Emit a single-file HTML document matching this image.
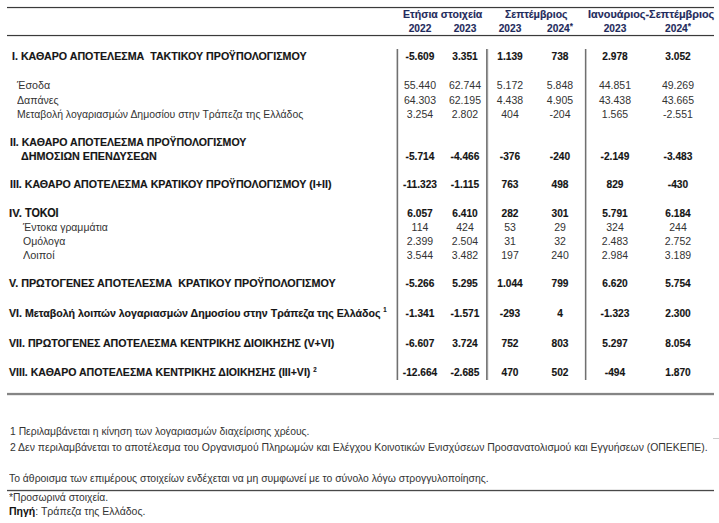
<!DOCTYPE html>
<html><head><meta charset="utf-8"><style>
html,body{margin:0;padding:0;background:#fff;width:719px;height:523px;overflow:hidden;position:relative}
.t{position:absolute;white-space:nowrap;font-family:"Liberation Sans",sans-serif}
.l{position:absolute}
sup{font-size:6.5px;vertical-align:top;position:relative;top:-3.5px}
.ast{font-weight:bold;font-size:9px;vertical-align:top;position:relative;top:-1.5px}
.t[style*="font-weight:bold"]{-webkit-text-stroke:0.15px currentColor}
</style></head><body>
<div class="l" style="left:7px;top:7px;width:707px;height:1px;background:#3a3a3a;box-shadow:0 1px 0 #e4e4e4, 0 -1px 0 #f0f0f0;"></div>
<div class="l" style="left:7px;top:35px;width:707px;height:1px;background:#3a3a3a;box-shadow:0 1px 0 #e4e4e4, 0 -1px 0 #f0f0f0;"></div>
<div class="t" style="left:403.42px;top:8.83px;font-size:11.3px;line-height:11.3px;font-weight:bold;color:#1f2b5c;transform:scaleX(0.9349);transform-origin:0 0;">Ετήσια στοιχεία</div>
<div class="t" style="left:505.04px;top:8.83px;font-size:11.3px;line-height:11.3px;font-weight:bold;color:#1f2b5c;transform:scaleX(0.9239);transform-origin:0 0;">Σεπτέμβριος</div>
<div class="t" style="left:588.02px;top:8.83px;font-size:11.3px;line-height:11.3px;font-weight:bold;color:#1f2b5c;transform:scaleX(0.9633);transform-origin:0 0;">Ιανουάριος-Σεπτέμβριος</div>
<div class="t" style="left:369.50px;width:100px;text-align:center;top:22.83px;font-size:11.3px;line-height:11.3px;font-weight:bold;color:#1f2b5c;transform:scaleX(0.9000);">2022</div>
<div class="t" style="left:414.50px;width:100px;text-align:center;top:22.83px;font-size:11.3px;line-height:11.3px;font-weight:bold;color:#1f2b5c;transform:scaleX(0.9000);">2023</div>
<div class="t" style="left:460.00px;width:100px;text-align:center;top:22.83px;font-size:11.3px;line-height:11.3px;font-weight:bold;color:#1f2b5c;transform:scaleX(0.9000);">2023</div>
<div class="t" style="left:509.50px;width:100px;text-align:center;top:22.83px;font-size:11.3px;line-height:11.3px;font-weight:bold;color:#1f2b5c;transform:scaleX(0.9000);">2024<span class="ast">*</span></div>
<div class="t" style="left:565.00px;width:100px;text-align:center;top:22.83px;font-size:11.3px;line-height:11.3px;font-weight:bold;color:#1f2b5c;transform:scaleX(0.9000);">2023</div>
<div class="t" style="left:628.00px;width:100px;text-align:center;top:22.83px;font-size:11.3px;line-height:11.3px;font-weight:bold;color:#1f2b5c;transform:scaleX(0.9000);">2024<span class="ast">*</span></div>
<div class="l" style="left:397px;top:49px;width:1px;height:331px;background:#707070;box-shadow:-1px 0 0 #c4c4c4, 1px 0 0 #e4e4e4;"></div>
<div class="l" style="left:486px;top:49px;width:1px;height:331px;background:#7a7a7a;box-shadow:1px 0 0 #9a9a9a, 2px 0 0 #ececec;"></div>
<div class="l" style="left:585px;top:49px;width:1px;height:331px;background:#707070;box-shadow:1px 0 0 #c4c4c4, -1px 0 0 #ececec;"></div>
<div class="t" style="left:12.33px;top:50.83px;font-size:11.3px;line-height:11.3px;font-weight:bold;color:#151515;transform:scaleX(0.9441);transform-origin:0 0;">I. ΚΑΘΑΡΟ ΑΠΟΤΕΛΕΣΜΑ&nbsp; ΤΑΚΤΙΚΟΥ ΠΡΟΫΠΟΛΟΓΙΣΜΟΥ</div>
<div class="t" style="left:369.50px;width:100px;text-align:center;top:50.83px;font-size:11.3px;line-height:11.3px;font-weight:bold;color:#151515;transform:scaleX(0.9000);">-5.609</div>
<div class="t" style="left:414.50px;width:100px;text-align:center;top:50.83px;font-size:11.3px;line-height:11.3px;font-weight:bold;color:#151515;transform:scaleX(0.9000);">3.351</div>
<div class="t" style="left:460.00px;width:100px;text-align:center;top:50.83px;font-size:11.3px;line-height:11.3px;font-weight:bold;color:#151515;transform:scaleX(0.9000);">1.139</div>
<div class="t" style="left:509.50px;width:100px;text-align:center;top:50.83px;font-size:11.3px;line-height:11.3px;font-weight:bold;color:#151515;transform:scaleX(0.9000);">738</div>
<div class="t" style="left:565.00px;width:100px;text-align:center;top:50.83px;font-size:11.3px;line-height:11.3px;font-weight:bold;color:#151515;transform:scaleX(0.9000);">2.978</div>
<div class="t" style="left:628.00px;width:100px;text-align:center;top:50.83px;font-size:11.3px;line-height:11.3px;font-weight:bold;color:#151515;transform:scaleX(0.9000);">3.052</div>
<div class="t" style="left:17.41px;top:79.79px;font-size:11px;line-height:11px;font-weight:normal;color:#333333;transform:scaleX(0.9727);transform-origin:0 0;">Έσοδα</div>
<div class="t" style="left:369.50px;width:100px;text-align:center;top:79.79px;font-size:11px;line-height:11px;font-weight:normal;color:#333333;transform:scaleX(0.9550);">55.440</div>
<div class="t" style="left:414.50px;width:100px;text-align:center;top:79.79px;font-size:11px;line-height:11px;font-weight:normal;color:#333333;transform:scaleX(0.9550);">62.744</div>
<div class="t" style="left:460.00px;width:100px;text-align:center;top:79.79px;font-size:11px;line-height:11px;font-weight:normal;color:#333333;transform:scaleX(0.9550);">5.172</div>
<div class="t" style="left:509.50px;width:100px;text-align:center;top:79.79px;font-size:11px;line-height:11px;font-weight:normal;color:#333333;transform:scaleX(0.9550);">5.848</div>
<div class="t" style="left:565.00px;width:100px;text-align:center;top:79.79px;font-size:11px;line-height:11px;font-weight:normal;color:#333333;transform:scaleX(0.9550);">44.851</div>
<div class="t" style="left:628.00px;width:100px;text-align:center;top:79.79px;font-size:11px;line-height:11px;font-weight:normal;color:#333333;transform:scaleX(0.9550);">49.269</div>
<div class="t" style="left:17.42px;top:95.29px;font-size:11px;line-height:11px;font-weight:normal;color:#333333;transform:scaleX(0.9651);transform-origin:0 0;">Δαπάνες</div>
<div class="t" style="left:369.50px;width:100px;text-align:center;top:95.29px;font-size:11px;line-height:11px;font-weight:normal;color:#333333;transform:scaleX(0.9550);">64.303</div>
<div class="t" style="left:414.50px;width:100px;text-align:center;top:95.29px;font-size:11px;line-height:11px;font-weight:normal;color:#333333;transform:scaleX(0.9550);">62.195</div>
<div class="t" style="left:460.00px;width:100px;text-align:center;top:95.29px;font-size:11px;line-height:11px;font-weight:normal;color:#333333;transform:scaleX(0.9550);">4.438</div>
<div class="t" style="left:509.50px;width:100px;text-align:center;top:95.29px;font-size:11px;line-height:11px;font-weight:normal;color:#333333;transform:scaleX(0.9550);">4.905</div>
<div class="t" style="left:565.00px;width:100px;text-align:center;top:95.29px;font-size:11px;line-height:11px;font-weight:normal;color:#333333;transform:scaleX(0.9550);">43.438</div>
<div class="t" style="left:628.00px;width:100px;text-align:center;top:95.29px;font-size:11px;line-height:11px;font-weight:normal;color:#333333;transform:scaleX(0.9550);">43.665</div>
<div class="t" style="left:17.43px;top:108.79px;font-size:11px;line-height:11px;font-weight:normal;color:#333333;transform:scaleX(0.9485);transform-origin:0 0;">Μεταβολή λογαριασμών Δημοσίου στην Τράπεζα της Ελλάδος</div>
<div class="t" style="left:369.50px;width:100px;text-align:center;top:108.79px;font-size:11px;line-height:11px;font-weight:normal;color:#333333;transform:scaleX(0.9550);">3.254</div>
<div class="t" style="left:414.50px;width:100px;text-align:center;top:108.79px;font-size:11px;line-height:11px;font-weight:normal;color:#333333;transform:scaleX(0.9550);">2.802</div>
<div class="t" style="left:460.00px;width:100px;text-align:center;top:108.79px;font-size:11px;line-height:11px;font-weight:normal;color:#333333;transform:scaleX(0.9550);">404</div>
<div class="t" style="left:509.50px;width:100px;text-align:center;top:108.79px;font-size:11px;line-height:11px;font-weight:normal;color:#333333;transform:scaleX(0.9550);">-204</div>
<div class="t" style="left:565.00px;width:100px;text-align:center;top:108.79px;font-size:11px;line-height:11px;font-weight:normal;color:#333333;transform:scaleX(0.9550);">1.565</div>
<div class="t" style="left:628.00px;width:100px;text-align:center;top:108.79px;font-size:11px;line-height:11px;font-weight:normal;color:#333333;transform:scaleX(0.9550);">-2.551</div>
<div class="t" style="left:9.93px;top:137.03px;font-size:11.3px;line-height:11.3px;font-weight:bold;color:#151515;transform:scaleX(0.9349);transform-origin:0 0;">II. ΚΑΘΑΡΟ ΑΠΟΤΕΛΕΣΜΑ ΠΡΟΫΠΟΛΟΓΙΣΜΟΥ</div>
<div class="t" style="left:21.40px;top:151.03px;font-size:11.3px;line-height:11.3px;font-weight:bold;color:#151515;transform:scaleX(0.9549);transform-origin:0 0;">ΔΗΜΟΣΙΩΝ ΕΠΕΝΔΥΣΕΩΝ</div>
<div class="t" style="left:369.50px;width:100px;text-align:center;top:151.03px;font-size:11.3px;line-height:11.3px;font-weight:bold;color:#151515;transform:scaleX(0.9000);">-5.714</div>
<div class="t" style="left:414.50px;width:100px;text-align:center;top:151.03px;font-size:11.3px;line-height:11.3px;font-weight:bold;color:#151515;transform:scaleX(0.9000);">-4.466</div>
<div class="t" style="left:460.00px;width:100px;text-align:center;top:151.03px;font-size:11.3px;line-height:11.3px;font-weight:bold;color:#151515;transform:scaleX(0.9000);">-376</div>
<div class="t" style="left:509.50px;width:100px;text-align:center;top:151.03px;font-size:11.3px;line-height:11.3px;font-weight:bold;color:#151515;transform:scaleX(0.9000);">-240</div>
<div class="t" style="left:565.00px;width:100px;text-align:center;top:151.03px;font-size:11.3px;line-height:11.3px;font-weight:bold;color:#151515;transform:scaleX(0.9000);">-2.149</div>
<div class="t" style="left:628.00px;width:100px;text-align:center;top:151.03px;font-size:11.3px;line-height:11.3px;font-weight:bold;color:#151515;transform:scaleX(0.9000);">-3.483</div>
<div class="t" style="left:9.93px;top:179.03px;font-size:11.3px;line-height:11.3px;font-weight:bold;color:#151515;transform:scaleX(0.9411);transform-origin:0 0;">III. ΚΑΘΑΡΟ ΑΠΟΤΕΛΕΣΜΑ ΚΡΑΤΙΚΟΥ ΠΡΟΫΠΟΛΟΓΙΣΜΟΥ (I+II)</div>
<div class="t" style="left:369.50px;width:100px;text-align:center;top:179.03px;font-size:11.3px;line-height:11.3px;font-weight:bold;color:#151515;transform:scaleX(0.9000);">-11.323</div>
<div class="t" style="left:414.50px;width:100px;text-align:center;top:179.03px;font-size:11.3px;line-height:11.3px;font-weight:bold;color:#151515;transform:scaleX(0.9000);">-1.115</div>
<div class="t" style="left:460.00px;width:100px;text-align:center;top:179.03px;font-size:11.3px;line-height:11.3px;font-weight:bold;color:#151515;transform:scaleX(0.9000);">763</div>
<div class="t" style="left:509.50px;width:100px;text-align:center;top:179.03px;font-size:11.3px;line-height:11.3px;font-weight:bold;color:#151515;transform:scaleX(0.9000);">498</div>
<div class="t" style="left:565.00px;width:100px;text-align:center;top:179.03px;font-size:11.3px;line-height:11.3px;font-weight:bold;color:#151515;transform:scaleX(0.9000);">829</div>
<div class="t" style="left:628.00px;width:100px;text-align:center;top:179.03px;font-size:11.3px;line-height:11.3px;font-weight:bold;color:#151515;transform:scaleX(0.9000);">-430</div>
<div class="t" style="left:9.38px;top:207.79px;font-size:11px;line-height:11px;font-weight:bold;color:#151515;transform:scaleX(1.0273);transform-origin:0 0;">IV.</div>
<div class="t" style="left:369.50px;width:100px;text-align:center;top:207.53px;font-size:11.3px;line-height:11.3px;font-weight:bold;color:#151515;transform:scaleX(0.9000);">6.057</div>
<div class="t" style="left:414.50px;width:100px;text-align:center;top:207.53px;font-size:11.3px;line-height:11.3px;font-weight:bold;color:#151515;transform:scaleX(0.9000);">6.410</div>
<div class="t" style="left:460.00px;width:100px;text-align:center;top:207.53px;font-size:11.3px;line-height:11.3px;font-weight:bold;color:#151515;transform:scaleX(0.9000);">282</div>
<div class="t" style="left:509.50px;width:100px;text-align:center;top:207.53px;font-size:11.3px;line-height:11.3px;font-weight:bold;color:#151515;transform:scaleX(0.9000);">301</div>
<div class="t" style="left:565.00px;width:100px;text-align:center;top:207.53px;font-size:11.3px;line-height:11.3px;font-weight:bold;color:#151515;transform:scaleX(0.9000);">5.791</div>
<div class="t" style="left:628.00px;width:100px;text-align:center;top:207.53px;font-size:11.3px;line-height:11.3px;font-weight:bold;color:#151515;transform:scaleX(0.9000);">6.184</div>
<div class="t" style="left:25.40px;top:206.94px;font-size:12px;line-height:12px;font-weight:bold;color:#151515;transform:scaleX(0.9027);transform-origin:0 0;">ΤΟΚΟΙ</div>
<div class="t" style="left:23.13px;top:222.09px;font-size:11px;line-height:11px;font-weight:normal;color:#333333;transform:scaleX(0.9483);transform-origin:0 0;">Έντοκα γραμμάτια</div>
<div class="t" style="left:369.50px;width:100px;text-align:center;top:222.09px;font-size:11px;line-height:11px;font-weight:normal;color:#333333;transform:scaleX(0.9550);">114</div>
<div class="t" style="left:414.50px;width:100px;text-align:center;top:222.09px;font-size:11px;line-height:11px;font-weight:normal;color:#333333;transform:scaleX(0.9550);">424</div>
<div class="t" style="left:460.00px;width:100px;text-align:center;top:222.09px;font-size:11px;line-height:11px;font-weight:normal;color:#333333;transform:scaleX(0.9550);">53</div>
<div class="t" style="left:509.50px;width:100px;text-align:center;top:222.09px;font-size:11px;line-height:11px;font-weight:normal;color:#333333;transform:scaleX(0.9550);">29</div>
<div class="t" style="left:565.00px;width:100px;text-align:center;top:222.09px;font-size:11px;line-height:11px;font-weight:normal;color:#333333;transform:scaleX(0.9550);">324</div>
<div class="t" style="left:628.00px;width:100px;text-align:center;top:222.09px;font-size:11px;line-height:11px;font-weight:normal;color:#333333;transform:scaleX(0.9550);">244</div>
<div class="t" style="left:23.12px;top:235.69px;font-size:11px;line-height:11px;font-weight:normal;color:#333333;transform:scaleX(0.9581);transform-origin:0 0;">Ομόλογα</div>
<div class="t" style="left:369.50px;width:100px;text-align:center;top:235.69px;font-size:11px;line-height:11px;font-weight:normal;color:#333333;transform:scaleX(0.9550);">2.399</div>
<div class="t" style="left:414.50px;width:100px;text-align:center;top:235.69px;font-size:11px;line-height:11px;font-weight:normal;color:#333333;transform:scaleX(0.9550);">2.504</div>
<div class="t" style="left:460.00px;width:100px;text-align:center;top:235.69px;font-size:11px;line-height:11px;font-weight:normal;color:#333333;transform:scaleX(0.9550);">31</div>
<div class="t" style="left:509.50px;width:100px;text-align:center;top:235.69px;font-size:11px;line-height:11px;font-weight:normal;color:#333333;transform:scaleX(0.9550);">32</div>
<div class="t" style="left:565.00px;width:100px;text-align:center;top:235.69px;font-size:11px;line-height:11px;font-weight:normal;color:#333333;transform:scaleX(0.9550);">2.483</div>
<div class="t" style="left:628.00px;width:100px;text-align:center;top:235.69px;font-size:11px;line-height:11px;font-weight:normal;color:#333333;transform:scaleX(0.9550);">2.752</div>
<div class="t" style="left:23.10px;top:249.59px;font-size:11px;line-height:11px;font-weight:normal;color:#333333;transform:scaleX(0.9903);transform-origin:0 0;">Λοιποί</div>
<div class="t" style="left:369.50px;width:100px;text-align:center;top:249.59px;font-size:11px;line-height:11px;font-weight:normal;color:#333333;transform:scaleX(0.9550);">3.544</div>
<div class="t" style="left:414.50px;width:100px;text-align:center;top:249.59px;font-size:11px;line-height:11px;font-weight:normal;color:#333333;transform:scaleX(0.9550);">3.482</div>
<div class="t" style="left:460.00px;width:100px;text-align:center;top:249.59px;font-size:11px;line-height:11px;font-weight:normal;color:#333333;transform:scaleX(0.9550);">197</div>
<div class="t" style="left:509.50px;width:100px;text-align:center;top:249.59px;font-size:11px;line-height:11px;font-weight:normal;color:#333333;transform:scaleX(0.9550);">240</div>
<div class="t" style="left:565.00px;width:100px;text-align:center;top:249.59px;font-size:11px;line-height:11px;font-weight:normal;color:#333333;transform:scaleX(0.9550);">2.984</div>
<div class="t" style="left:628.00px;width:100px;text-align:center;top:249.59px;font-size:11px;line-height:11px;font-weight:normal;color:#333333;transform:scaleX(0.9550);">3.189</div>
<div class="t" style="left:9.41px;top:277.83px;font-size:11.3px;line-height:11.3px;font-weight:bold;color:#151515;transform:scaleX(0.9522);transform-origin:0 0;">V. ΠΡΩΤΟΓΕΝΕΣ ΑΠΟΤΕΛΕΣΜΑ&nbsp; ΚΡΑΤΙΚΟΥ ΠΡΟΫΠΟΛΟΓΙΣΜΟΥ</div>
<div class="t" style="left:369.50px;width:100px;text-align:center;top:277.83px;font-size:11.3px;line-height:11.3px;font-weight:bold;color:#151515;transform:scaleX(0.9000);">-5.266</div>
<div class="t" style="left:414.50px;width:100px;text-align:center;top:277.83px;font-size:11.3px;line-height:11.3px;font-weight:bold;color:#151515;transform:scaleX(0.9000);">5.295</div>
<div class="t" style="left:460.00px;width:100px;text-align:center;top:277.83px;font-size:11.3px;line-height:11.3px;font-weight:bold;color:#151515;transform:scaleX(0.9000);">1.044</div>
<div class="t" style="left:509.50px;width:100px;text-align:center;top:277.83px;font-size:11.3px;line-height:11.3px;font-weight:bold;color:#151515;transform:scaleX(0.9000);">799</div>
<div class="t" style="left:565.00px;width:100px;text-align:center;top:277.83px;font-size:11.3px;line-height:11.3px;font-weight:bold;color:#151515;transform:scaleX(0.9000);">6.620</div>
<div class="t" style="left:628.00px;width:100px;text-align:center;top:277.83px;font-size:11.3px;line-height:11.3px;font-weight:bold;color:#151515;transform:scaleX(0.9000);">5.754</div>
<div class="t" style="left:9.42px;top:307.63px;font-size:11.3px;line-height:11.3px;font-weight:bold;color:#151515;transform:scaleX(0.9381);transform-origin:0 0;">VI. Μεταβολή λοιπών λογαριασμών Δημοσίου στην Τράπεζα της Ελλάδος <sup>1</sup></div>
<div class="t" style="left:369.50px;width:100px;text-align:center;top:307.63px;font-size:11.3px;line-height:11.3px;font-weight:bold;color:#151515;transform:scaleX(0.9000);">-1.341</div>
<div class="t" style="left:414.50px;width:100px;text-align:center;top:307.63px;font-size:11.3px;line-height:11.3px;font-weight:bold;color:#151515;transform:scaleX(0.9000);">-1.571</div>
<div class="t" style="left:460.00px;width:100px;text-align:center;top:307.63px;font-size:11.3px;line-height:11.3px;font-weight:bold;color:#151515;transform:scaleX(0.9000);">-293</div>
<div class="t" style="left:509.50px;width:100px;text-align:center;top:307.63px;font-size:11.3px;line-height:11.3px;font-weight:bold;color:#151515;transform:scaleX(0.9000);">4</div>
<div class="t" style="left:565.00px;width:100px;text-align:center;top:307.63px;font-size:11.3px;line-height:11.3px;font-weight:bold;color:#151515;transform:scaleX(0.9000);">-1.323</div>
<div class="t" style="left:628.00px;width:100px;text-align:center;top:307.63px;font-size:11.3px;line-height:11.3px;font-weight:bold;color:#151515;transform:scaleX(0.9000);">2.300</div>
<div class="t" style="left:9.42px;top:337.83px;font-size:11.3px;line-height:11.3px;font-weight:bold;color:#151515;transform:scaleX(0.9406);transform-origin:0 0;">VII. ΠΡΩΤΟΓΕΝΕΣ ΑΠΟΤΕΛΕΣΜΑ ΚΕΝΤΡΙΚΗΣ ΔΙΟΙΚΗΣΗΣ (V+VI)</div>
<div class="t" style="left:369.50px;width:100px;text-align:center;top:337.83px;font-size:11.3px;line-height:11.3px;font-weight:bold;color:#151515;transform:scaleX(0.9000);">-6.607</div>
<div class="t" style="left:414.50px;width:100px;text-align:center;top:337.83px;font-size:11.3px;line-height:11.3px;font-weight:bold;color:#151515;transform:scaleX(0.9000);">3.724</div>
<div class="t" style="left:460.00px;width:100px;text-align:center;top:337.83px;font-size:11.3px;line-height:11.3px;font-weight:bold;color:#151515;transform:scaleX(0.9000);">752</div>
<div class="t" style="left:509.50px;width:100px;text-align:center;top:337.83px;font-size:11.3px;line-height:11.3px;font-weight:bold;color:#151515;transform:scaleX(0.9000);">803</div>
<div class="t" style="left:565.00px;width:100px;text-align:center;top:337.83px;font-size:11.3px;line-height:11.3px;font-weight:bold;color:#151515;transform:scaleX(0.9000);">5.297</div>
<div class="t" style="left:628.00px;width:100px;text-align:center;top:337.83px;font-size:11.3px;line-height:11.3px;font-weight:bold;color:#151515;transform:scaleX(0.9000);">8.054</div>
<div class="t" style="left:9.42px;top:367.33px;font-size:11.3px;line-height:11.3px;font-weight:bold;color:#151515;transform:scaleX(0.9334);transform-origin:0 0;">VIII. ΚΑΘΑΡΟ ΑΠΟΤΕΛΕΣΜΑ ΚΕΝΤΡΙΚΗΣ ΔΙΟΙΚΗΣΗΣ (III+VI) <sup>2</sup></div>
<div class="t" style="left:369.50px;width:100px;text-align:center;top:367.33px;font-size:11.3px;line-height:11.3px;font-weight:bold;color:#151515;transform:scaleX(0.9000);">-12.664</div>
<div class="t" style="left:414.50px;width:100px;text-align:center;top:367.33px;font-size:11.3px;line-height:11.3px;font-weight:bold;color:#151515;transform:scaleX(0.9000);">-2.685</div>
<div class="t" style="left:460.00px;width:100px;text-align:center;top:367.33px;font-size:11.3px;line-height:11.3px;font-weight:bold;color:#151515;transform:scaleX(0.9000);">470</div>
<div class="t" style="left:509.50px;width:100px;text-align:center;top:367.33px;font-size:11.3px;line-height:11.3px;font-weight:bold;color:#151515;transform:scaleX(0.9000);">502</div>
<div class="t" style="left:565.00px;width:100px;text-align:center;top:367.33px;font-size:11.3px;line-height:11.3px;font-weight:bold;color:#151515;transform:scaleX(0.9000);">-494</div>
<div class="t" style="left:628.00px;width:100px;text-align:center;top:367.33px;font-size:11.3px;line-height:11.3px;font-weight:bold;color:#151515;transform:scaleX(0.9000);">1.870</div>
<div class="l" style="left:7px;top:393px;width:707px;height:2px;background:#858585;box-shadow:0 1px 0 #e8e8e8, 0 -1px 0 #f0f0f0;"></div>
<div class="t" style="left:10.03px;top:426.09px;font-size:11px;line-height:11px;font-weight:normal;color:#333333;transform:scaleX(0.9416);transform-origin:0 0;">1 Περιλαμβάνεται η κίνηση των λογαριασμών διαχείρισης χρέους.</div>
<div class="t" style="left:10.00px;top:441.89px;font-size:11px;line-height:11px;font-weight:normal;color:#333333;transform:scaleX(0.9478);transform-origin:0 0;">2 Δεν περιλαμβάνεται το αποτέλεσμα του Οργανισμού Πληρωμών και Ελέγχου Κοινοτικών Ενισχύσεων Προσανατολισμού και Εγγυήσεων (ΟΠΕΚΕΠΕ).</div>
<div class="t" style="left:9.44px;top:472.89px;font-size:11px;line-height:11px;font-weight:normal;color:#333333;transform:scaleX(0.9439);transform-origin:0 0;">Το άθροισμα των επιμέρους στοιχείων ενδέχεται να μη συμφωνεί με το σύνολο λόγω στρογγυλοποίησης.</div>
<div class="t" style="left:9.45px;top:491.79px;font-size:11px;line-height:11px;font-weight:normal;color:#333333;transform:scaleX(0.9385);transform-origin:0 0;">*Προσωρινά στοιχεία.</div>
<div class="t" style="left:9.44px;top:505.99px;font-size:11px;line-height:11px;font-weight:normal;color:#333333;transform:scaleX(0.9560);transform-origin:0 0;"><b style="color:#111">Πηγή</b>: Τράπεζα της Ελλάδος.</div>
<div class="l" style="left:7px;top:490px;width:707px;height:1px;background:#484848;box-shadow:0 1px 0 #dcdcdc, 0 -1px 0 #e8e8e8;"></div>
<div class="l" style="left:713px;top:438px;width:6px;height:1px;background:#ccc;"></div>
</body></html>
